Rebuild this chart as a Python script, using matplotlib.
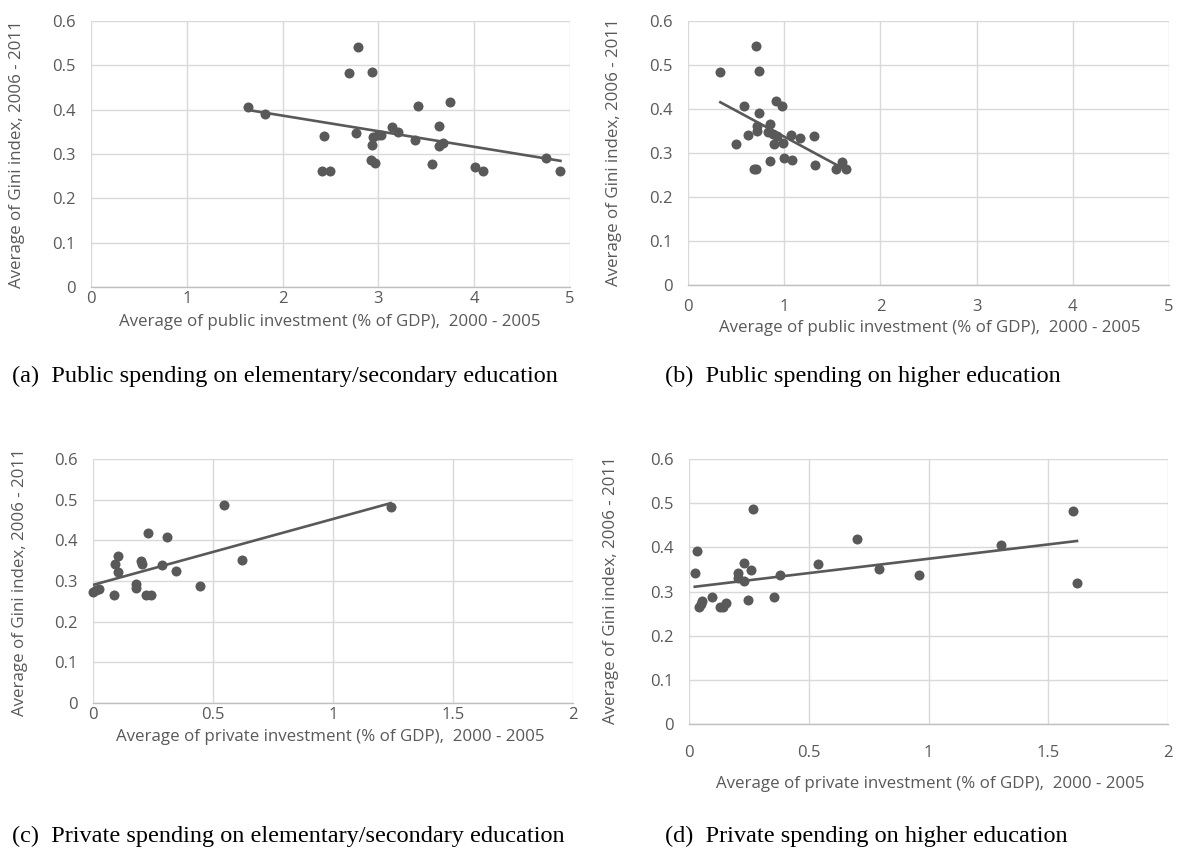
import numpy as np
import matplotlib
matplotlib.use("Agg")
import matplotlib.pyplot as plt

# ---------------- data ----------------
a_x = [1.64, 1.82, 2.43, 2.41, 2.49, 2.69, 2.79, 2.77, 2.93, 2.92, 2.96, 2.93, 2.94, 3.00,
       3.03, 3.14, 3.20, 3.38, 3.41, 3.56, 3.63, 3.63, 3.67, 3.75, 4.01, 4.09, 4.75, 4.90]
a_y = [0.406, 0.390, 0.340, 0.262, 0.262, 0.483, 0.542, 0.347, 0.486, 0.286, 0.280, 0.321, 0.338, 0.342,
       0.343, 0.362, 0.350, 0.332, 0.409, 0.277, 0.364, 0.319, 0.325, 0.417, 0.271, 0.262, 0.290, 0.262]

b_x = [0.707, 0.336, 0.735, 0.91, 0.98, 0.58, 0.735, 0.72, 0.85, 0.72, 0.835, 0.88, 0.925, 0.62, 0.50,
       0.89, 0.99, 1.07, 1.16, 1.31, 0.85, 1.00, 1.08, 0.69, 0.71, 1.32, 1.54, 1.60, 1.64]
b_y = [0.544, 0.484, 0.486, 0.419, 0.406, 0.407, 0.392, 0.361, 0.366, 0.350, 0.348, 0.344, 0.338, 0.341, 0.320,
       0.320, 0.323, 0.342, 0.333, 0.338, 0.282, 0.289, 0.285, 0.264, 0.264, 0.273, 0.264, 0.280, 0.264]

c_x = [0.00, 0.011, 0.026, 0.086, 0.09, 0.106, 0.106, 0.178, 0.18, 0.199, 0.204, 0.23, 0.22, 0.243,
       0.286, 0.308, 0.344, 0.447, 0.546, 0.622, 1.24]
c_y = [0.272, 0.277, 0.281, 0.265, 0.342, 0.361, 0.323, 0.292, 0.283, 0.350, 0.343, 0.419, 0.265, 0.265,
       0.339, 0.408, 0.325, 0.287, 0.486, 0.351, 0.483]

d_x = [0.024, 0.035, 0.043, 0.05, 0.056, 0.096, 0.13, 0.141, 0.153, 0.204, 0.204, 0.23, 0.23, 0.245,
       0.26, 0.268, 0.356, 0.38, 0.537, 0.70, 0.794, 0.96, 1.304, 1.603, 1.62]
d_y = [0.341, 0.392, 0.265, 0.272, 0.279, 0.288, 0.265, 0.266, 0.273, 0.341, 0.330, 0.365, 0.324, 0.281,
       0.348, 0.487, 0.288, 0.338, 0.362, 0.418, 0.350, 0.338, 0.406, 0.483, 0.320]

y_ticks = [0, 0.1, 0.2, 0.3, 0.4, 0.5, 0.6]
y_ticklabels = ["0", "0.1", "0.2", "0.3", "0.4", "0.5", "0.6"]
pub_ticks = [0, 1, 2, 3, 4, 5]
pub_ticklabels = ["0", "1", "2", "3", "4", "5"]
priv_ticks = [0, 0.5, 1, 1.5, 2]
priv_ticklabels = ["0", "0.5", "1", "1.5", "2"]

ylabel_text = "Average of Gini index, 2006 - 2011"
xlabel_pub = "Average of public investment (% of GDP),  2000 - 2005"
xlabel_priv = "Average of private investment (% of GDP),  2000 - 2005"
captions = ["(a)  Public spending on elementary/secondary education",
            "(b)  Public spending on higher education",
            "(c)  Private spending on elementary/secondary education",
            "(d)  Private spending on higher education"]

# ---------------- figure ----------------
W, H = 1179, 855
fig = plt.figure(figsize=(W / 100, H / 100), dpi=100)
fig.patch.set_facecolor("white")

MARK = "#595959"
GRID = "#d9d9d9"
TXT = "#595959"
SANS = ["Open Sans", "DejaVu Sans"]
SERIF = ["Liberation Serif", "DejaVu Serif"]
TICK_FS = 12
LAB_FS = 12.2
CAP_FS = 17.5


def px_axes(x0, x1, ytop, ybot):
    return fig.add_axes([x0 / W, 1 - ybot / H, (x1 - x0) / W, (ybot - ytop) / H])


def panel(box, xs, ys, xlim, xticks, xticklabels, xpad):
    ax = px_axes(*box)
    ax.scatter(xs, ys, s=52, color=MARK, zorder=3, linewidths=0, clip_on=False)
    xs_arr = np.array(xs)
    k, b0 = np.polyfit(xs_arr, np.array(ys), 1)
    xl = np.array([xs_arr.min(), xs_arr.max()])
    ax.plot(xl, k * xl + b0, color=MARK, lw=1.9, zorder=2)
    ax.set_xlim(*xlim)
    ax.set_ylim(0, 0.6)
    ax.set_xticks(xticks)
    ax.set_xticklabels(xticklabels)
    ax.set_yticks(y_ticks)
    ax.set_yticklabels(y_ticklabels)
    ax.grid(True, color=GRID, lw=1.0, zorder=0)
    ax.set_axisbelow(True)
    for s in ["top", "right", "left"]:
        ax.spines[s].set_visible(False)
    ax.spines["bottom"].set_color("#bfbfbf")
    ax.spines["bottom"].set_linewidth(1.0)
    ax.tick_params(length=0, labelsize=TICK_FS, labelcolor=TXT)
    ax.tick_params(axis="y", pad=11)
    ax.tick_params(axis="x", pad=xpad)
    for lab in ax.get_xticklabels() + ax.get_yticklabels():
        lab.set_family(SANS)
    return ax


panel((91, 570, 21, 287), a_x, a_y, (0, 5), pub_ticks, pub_ticklabels, 3)
panel((688, 1169, 21, 285), b_x, b_y, (0, 5), pub_ticks, pub_ticklabels, 10)
panel((93, 573, 459, 703), c_x, c_y, (0, 2), priv_ticks, priv_ticklabels, 3)
panel((689, 1168, 459, 724), d_x, d_y, (0, 2), priv_ticks, priv_ticklabels, 15)


def ftext(x, y, s, **kw):
    fig.text(x / W, 1 - y / H, s, **kw)


# y labels
for (x, y) in [(17, 154), (614, 152), (20, 582), (611, 590)]:
    ftext(x, y, ylabel_text, rotation=90, ha="center", va="center",
          fontsize=LAB_FS, color=TXT, family=SANS)

# x labels
ftext(330, 322, xlabel_pub, ha="center", va="center", fontsize=LAB_FS, color=TXT, family=SANS)
ftext(930, 328, xlabel_pub, ha="center", va="center", fontsize=LAB_FS, color=TXT, family=SANS)
ftext(330, 737, xlabel_priv, ha="center", va="center", fontsize=LAB_FS, color=TXT, family=SANS)
ftext(930, 784, xlabel_priv, ha="center", va="center", fontsize=LAB_FS, color=TXT, family=SANS)

# captions
ftext(12, 376, captions[0], ha="left", va="center", fontsize=CAP_FS, color="black", family=SERIF)
ftext(665, 376, captions[1], ha="left", va="center", fontsize=CAP_FS, color="black", family=SERIF)
ftext(12, 836, captions[2], ha="left", va="center", fontsize=CAP_FS, color="black", family=SERIF)
ftext(665, 836, captions[3], ha="left", va="center", fontsize=CAP_FS, color="black", family=SERIF)

fig.savefig("out.png", dpi=100, facecolor="white")
